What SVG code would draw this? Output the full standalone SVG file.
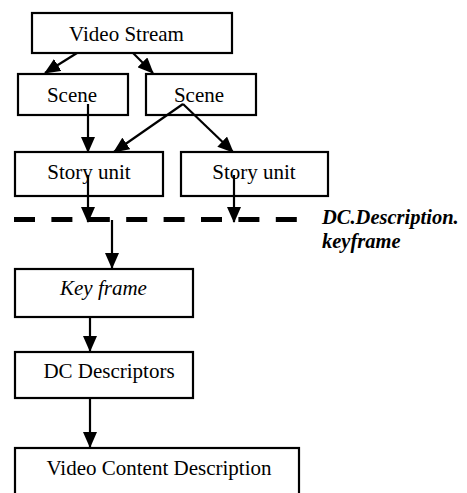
<svg xmlns="http://www.w3.org/2000/svg" width="467" height="493" viewBox="0 0 467 493">
<defs>
<marker id="ah" markerWidth="16" markerHeight="14" refX="15" refY="7" orient="auto" markerUnits="userSpaceOnUse">
<path d="M0,0 L16,7 L0,14 Z" fill="#000"/>
</marker>
<style>
.box{fill:#fff;stroke:#000;stroke-width:2.2}
.t{font-size:21px;fill:#000;text-anchor:middle}
.c{fill:none;stroke:#000;stroke-width:2.2}
.lbl{font-size:20.5px;font-weight:bold;font-style:italic;fill:#000}
</style>
</defs>
<rect width="467" height="493" fill="#fff"/>
<g font-family="Liberation Serif, DejaVu Serif, serif">
<g id="video-stream"><rect class="box" x="32" y="13" width="200" height="40"/><text class="t" x="126.5" y="41">Video Stream</text></g>
<g id="scene1"><rect class="box" x="18" y="74" width="110" height="41"/><text class="t" x="72" y="102">Scene</text></g>
<g id="scene2"><rect class="box" x="146" y="74" width="110" height="41"/><text class="t" x="199" y="102">Scene</text></g>
<g id="story1"><rect class="box" x="15" y="152" width="148" height="44"/><text class="t" x="89" y="179">Story unit</text></g>
<g id="story2"><rect class="box" x="181" y="152" width="147" height="44"/><text class="t" x="254" y="179">Story unit</text></g>
<g id="label"><text class="lbl" x="322" y="224">DC.Description.</text><text class="lbl" x="322" y="248">keyframe</text></g>
<g id="keyframe"><rect class="box" x="15" y="269" width="178" height="48"/><text class="t" x="103.5" y="295" font-style="italic">Key frame</text></g>
<g id="dc-descriptors"><rect class="box" x="15" y="352" width="178" height="46"/><text class="t" x="109" y="378">DC Descriptors</text></g>
<g id="vcd"><rect class="box" x="15" y="448" width="284" height="60"/><text class="t" x="159" y="475">Video Content Description</text></g>
</g>
<g id="connectors">
<line class="c" x1="77" y1="53" x2="45" y2="73" marker-end="url(#ah)"/>
<line class="c" x1="133" y1="53" x2="153" y2="73" marker-end="url(#ah)"/>
<line class="c" x1="88" y1="104" x2="88" y2="152" marker-end="url(#ah)"/>
<line class="c" x1="183" y1="104" x2="114" y2="152" marker-end="url(#ah)"/>
<line class="c" x1="183" y1="104" x2="233" y2="152" marker-end="url(#ah)"/>
<line class="c" x1="88" y1="175" x2="88" y2="222" marker-end="url(#ah)"/>
<line class="c" x1="234" y1="175" x2="234" y2="222" marker-end="url(#ah)"/>
<line x1="14" y1="219.5" x2="297" y2="219.5" stroke="#000" stroke-width="5" stroke-dasharray="21 16.4"/>
<line class="c" x1="112" y1="220" x2="112" y2="268" marker-end="url(#ah)"/>
<line class="c" x1="90" y1="317" x2="90" y2="351" marker-end="url(#ah)"/>
<line class="c" x1="90" y1="398" x2="90" y2="447" marker-end="url(#ah)"/>
</g>
</svg>
